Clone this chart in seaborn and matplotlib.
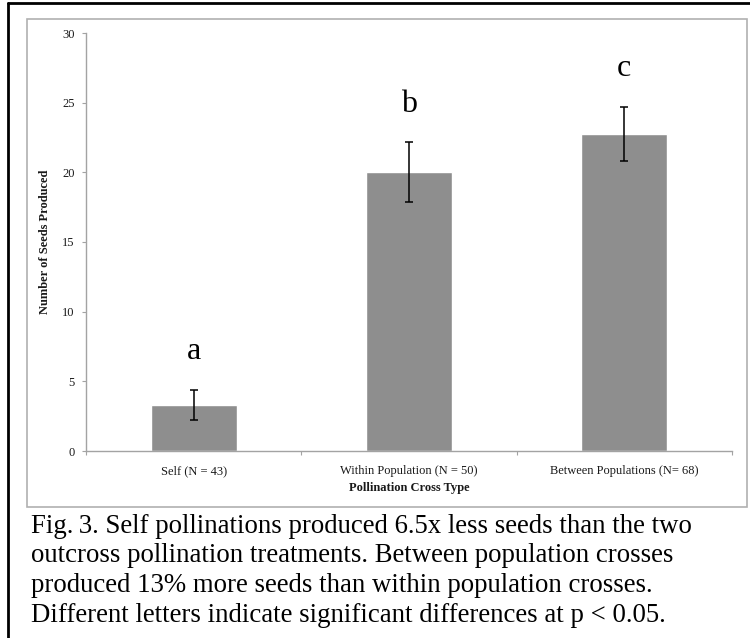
import matplotlib
matplotlib.use("Agg")
import matplotlib.pyplot as plt
from matplotlib.patches import Rectangle
from matplotlib.lines import Line2D
import seaborn as sns
import pandas as pd

# Data
categories = ["Self (N = 43)", "Within Population (N = 50)", "Between Populations (N= 68)"]
mean_seeds = [3.3, 20.0, 22.75]
se_seeds = [1.1, 2.15, 1.95]
group_letters = ["a", "b", "c"]
y_ticks = [0, 5, 10, 15, 20, 25, 30]
caption_lines = [
    "Fig.\u20093. Self pollinations produced 6.5x less seeds than the two",
    "outcross pollination treatments. Between population crosses",
    "produced 13% more seeds than within population crosses.",
    "Different letters indicate significant differences at p < 0.05.",
]

sns.set_theme(style="white")
plt.rcParams["font.family"] = ["Liberation Serif", "DejaVu Serif"]

W, H = 750, 638
fig = plt.figure(figsize=(W / 100, H / 100), dpi=100)
fig.patch.set_facecolor("white")

def fx(px):
    return px / W

def fy(py):
    return 1 - py / H

ax = fig.add_axes([fx(86), fy(451), fx(732) - fx(86), fy(33) - fy(451)])

df = pd.DataFrame({"cross": categories, "seeds": mean_seeds})
sns.barplot(data=df, x="cross", y="seeds", color="#8e8e8e", saturation=1,
            width=0.4, ax=ax, errorbar=None)
ax.errorbar(range(len(categories)), mean_seeds, yerr=se_seeds, fmt="none",
            ecolor="black", elinewidth=1.1, capsize=2.8, capthick=1.1, zorder=5)

# Significance letters above each error bar
for i, (m, s, lab) in enumerate(zip(mean_seeds, se_seeds, group_letters)):
    ax.text(i, m + s + 2.2, lab, ha="center", va="baseline", fontsize=23,
            color="black")

ax.set_xlim(-0.5, len(categories) - 0.5)
ax.set_ylim(0, 30)
ax.set_yticks(y_ticks)
ax.set_yticklabels([str(t) for t in y_ticks])

axis_gray = "#a3a3a3"
for side in ["top", "right"]:
    ax.spines[side].set_visible(False)
for side in ["left", "bottom"]:
    ax.spines[side].set_visible(True)
    ax.spines[side].set_color(axis_gray)
    ax.spines[side].set_linewidth(1.0)

ax.tick_params(axis="y", which="major", direction="out", length=3, width=0.8,
               color=axis_gray, pad=5, labelsize=9, labelcolor="#1a1a1a", left=True)
ax.tick_params(axis="x", which="major", length=0, pad=10, labelsize=9,
               labelcolor="#1a1a1a", bottom=True)
ax.set_xticks([i - 0.5 for i in range(len(categories) + 1)], minor=True)
ax.tick_params(axis="x", which="minor", direction="out", length=3, width=0.8,
               color=axis_gray, bottom=True)

ax.set_xlabel("Pollination Cross Type", fontsize=9, fontweight="bold",
              color="#1a1a1a", labelpad=4)
ax.set_ylabel("Number of Seeds Produced", fontsize=9, fontweight="bold",
              color="#1a1a1a")
ax.yaxis.set_label_coords((51 - 86) / 646, 0.5)
ax.grid(False)

# Chart area frame
fig.add_artist(Rectangle((fx(27), fy(507)), fx(747) - fx(27), fy(19) - fy(507),
                         transform=fig.transFigure, fill=False,
                         edgecolor="#b0b0b0", linewidth=1.2))
# Outer page border (left and top)
fig.add_artist(Line2D([fx(8), fx(8)], [0, fy(3)], transform=fig.transFigure,
                      color="black", linewidth=2.0))
fig.add_artist(Line2D([fx(8), 1.0], [fy(3), fy(3)], transform=fig.transFigure,
                      color="black", linewidth=2.0))

# Caption
baselines = [533, 562.5, 592, 621.5]
for txt, base in zip(caption_lines, baselines):
    fig.text(fx(31), fy(base), txt, ha="left", va="baseline", fontsize=19.3,
             color="black")

fig.savefig("out.png", dpi=100)
